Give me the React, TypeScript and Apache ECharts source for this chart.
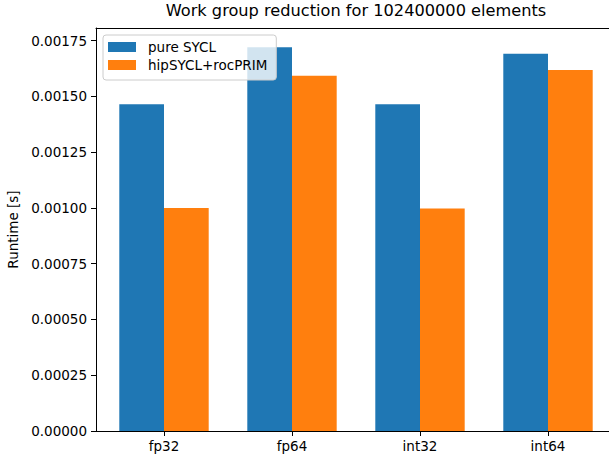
import React, { useEffect, useRef } from "react";
import * as echarts from "echarts";

const categories = ["fp32", "fp64", "int32", "int64"];
const pureSycl = [0.001465, 0.001721, 0.001465, 0.001691];
const hipSyclRocPrim = [0.0010, 0.001593, 0.000998, 0.001619];
const yTicks = [0, 0.00025, 0.0005, 0.00075, 0.001, 0.00125, 0.0015, 0.00175];
const seriesNames = ["pure SYCL", "hipSYCL+rocPRIM"];

const FONT = "DejaVu Sans";

export default function App() {
  const ref = useRef<HTMLDivElement>(null);
  useEffect(() => {
    document.body.style.margin = "0";
    const chart = echarts.init(ref.current!, null, { renderer: "svg" });
    const xIdx = categories.map((_, i) => i);
    chart.setOption({
      animation: false,
      backgroundColor: "#ffffff",
      title: {
        text: "Work group reduction for 102400000 elements",
        left: 356,
        top: 2,
        textAlign: "center",
        padding: 0,
        textStyle: { fontFamily: FONT, fontSize: 16.2, fontWeight: "normal", color: "#000" },
      },
      legend: {
        orient: "vertical",
        left: 103,
        top: 35,
        padding: [4, 9, 7, 5],
        itemWidth: 28,
        itemHeight: 10,
        itemGap: 2,
        icon: "rect",
        backgroundColor: "rgba(255,255,255,0.8)",
        borderColor: "#cccccc",
        borderWidth: 1,
        borderRadius: 3,
        textStyle: { fontFamily: FONT, fontSize: 13.5, color: "#000", lineHeight: 16, padding: [0, 0, 0, 7] },
        data: seriesNames,
      },
      grid: {
        left: 96,
        right: 0,
        top: 28,
        bottom: 23,
        show: false,
        containLabel: false,
        outerBoundsMode: "none",
      },
      xAxis: [
        {
          type: "value",
          min: -0.53125,
          max: 3.4766,
          splitLine: { show: false },
          axisLine: { show: true, onZero: false, lineStyle: { color: "#000", width: 1 } },
          axisTick: { show: true, length: 5, lineStyle: { color: "#000" }, customValues: xIdx },
          axisLabel: {
            customValues: xIdx,
            formatter: (v: number) => categories[Math.round(v)] ?? "",
            margin: 8,
            fontFamily: FONT,
            fontSize: 13.5,
            color: "#000",
          },
        },
        {
          type: "value",
          position: "top",
          min: -0.53125,
          max: 3.4766,
          splitLine: { show: false },
          axisLine: { show: true, onZero: false, lineStyle: { color: "#000", width: 1 } },
          axisTick: { show: false },
          axisLabel: { show: false },
        },
      ],
      yAxis: {
        type: "value",
        min: 0,
        max: 0.001807,
        name: "Runtime [s]",
        nameLocation: "middle",
        nameGap: 72,
        nameRotate: 90,
        nameTextStyle: { fontFamily: FONT, fontSize: 13.5, color: "#000" },
        splitLine: { show: false },
        axisLine: { show: true, onZero: false, lineStyle: { color: "#000", width: 1 } },
        axisTick: { show: true, length: 5, lineStyle: { color: "#000" }, customValues: yTicks },
        axisLabel: {
          customValues: yTicks,
          formatter: (v: number) => v.toFixed(5),
          margin: 9,
          fontFamily: FONT,
          fontSize: 13.5,
          color: "#000",
        },
      },
      series: [
        {
          name: seriesNames[0],
          type: "bar",
          xAxisIndex: 0,
          barWidth: 44.7,
          barGap: "0%",
          itemStyle: { color: "#1f77b4" },
          data: pureSycl.map((v, i) => [i, v]),
        },
        {
          name: seriesNames[1],
          type: "bar",
          xAxisIndex: 0,
          barWidth: 44.7,
          barGap: "0%",
          itemStyle: { color: "#ff7f0e" },
          data: hipSyclRocPrim.map((v, i) => [i, v]),
        },
      ],
    });
    return () => chart.dispose();
  }, []);
  return (
    <div
      ref={ref}
      style={{ position: "absolute", left: 0, top: 0, width: 609, height: 454 }}
    />
  );
}
